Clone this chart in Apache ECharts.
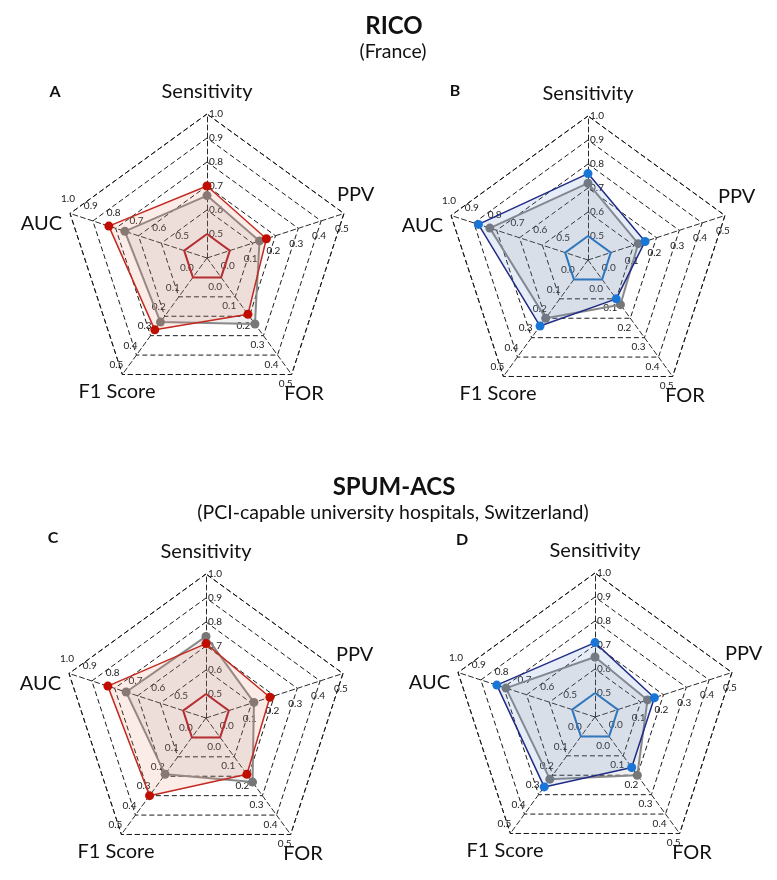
<!DOCTYPE html>
<html><head><meta charset="utf-8">
<script src="https://cdn.jsdelivr.net/npm/echarts@6/dist/echarts.min.js"></script>
<style>html,body{margin:0;padding:0;background:#fff}#c{width:777px;height:880px}</style>
</head><body><div id="c"></div>
<script>
// ---- data ----
const indicators = ['Sensitivity', 'AUC', 'F1 Score', 'FOR', 'PPV']; // counter-clockwise from top
const axisMin = [0.4, 0.4, -0.1, -0.1, -0.1];
const axisMax = [1.0, 1.0, 0.5, 0.5, 0.5];
const baseline = [0.5, 0.5, 0.0, 0.0, 0.0];
const panelLetters = ['A', 'B', 'C', 'D'];
const modelA = [0.70, 0.83, 0.27, 0.19, 0.16];
const compA  = [0.66, 0.76, 0.23, 0.24, 0.13];
const modelB = [0.76, 0.88, 0.24, 0.10, 0.15];
const compB  = [0.72, 0.83, 0.20, 0.13, 0.12];
const modelC = [0.71, 0.83, 0.30, 0.19, 0.18];
const compC  = [0.74, 0.75, 0.19, 0.23, 0.11];
const modelD = [0.71, 0.83, 0.26, 0.16, 0.16];
const compD  = [0.65, 0.79, 0.22, 0.20, 0.13];
const titles = ['RICO', 'SPUM-ACS'];
const subtitles = ['(France)', '(PCI-capable university hospitals, Switzerland)'];

// ---- layout / style ----
const centers = [[207, 258], [588, 260], [206, 718], [595, 717]];
const R = 144;
const FONT = 'Lato, "Open Sans", sans-serif';
const redTheme = {line: '#c0231b', dot: '#c00d00', fill: 'rgba(228,130,105,0.22)', inner: '#b5121b'};
const blueTheme = {line: '#1b2580', dot: '#1976d6', fill: 'rgba(95,140,195,0.22)', inner: '#1d73c6'};
const themes = [redTheme, blueTheme, redTheme, blueTheme];
const models = [modelA, modelB, modelC, modelD];
const comps = [compA, compB, compC, compD];

const radars = centers.map(c => ({
  center: c, radius: R, startAngle: 90, splitNumber: 6, shape: 'polygon',
  indicator: indicators.map((n, i) => ({name: n, min: axisMin[i], max: axisMax[i]})),
  axisName: {show: false},
  splitLine: {lineStyle: {color: '#1a1a1a', width: 1, type: [5, 3]}},
  splitArea: {show: false},
  axisLine: {lineStyle: {color: '#2a2a2a', width: 1, type: [5, 3]}},
  axisTick: {show: false},
  axisLabel: {show: true, fontSize: 10, color: '#222', fontFamily: FONT, margin: -16,
    formatter: (v, idx) => idx === 0 ? '' : (Math.round(v * 10) / 10).toFixed(1)}
}));

const series = [];
centers.forEach((c, p) => {
  const t = themes[p];
  series.push({type: 'radar', radarIndex: p, silent: true, z: 2, symbol: 'none',
    lineStyle: {color: t.inner, width: 2}, areaStyle: {opacity: 0},
    data: [{value: baseline}]});
  series.push({type: 'radar', radarIndex: p, silent: true, z: 3, symbol: 'circle', symbolSize: 9,
    lineStyle: {color: '#8a8a8a', width: 2}, itemStyle: {color: '#777'},
    areaStyle: {color: 'rgba(130,130,130,0.18)'},
    data: [{value: comps[p]}]});
  series.push({type: 'radar', radarIndex: p, silent: true, z: 4, symbol: 'circle', symbolSize: 9,
    lineStyle: {color: t.line, width: 1.5}, itemStyle: {color: t.dot},
    areaStyle: {color: t.fill},
    data: [{value: models[p]}]});
});

// axis names and headings
const nameOffsets = [
  {dx: 0, dy: -166, align: 'center'},
  {dx: -145, dy: -34, align: 'right'},
  {dx: -90, dy: 134, align: 'center'},
  {dx: 97, dy: 136, align: 'center'},
  {dx: 130, dy: -63, align: 'left'}
];
const letterPos = [[55, 92], [455, 91], [53, 538], [462, 540]];
const graphics = [];
centers.forEach((c, p) => {
  indicators.forEach((n, i) => {
    const o = nameOffsets[i];
    graphics.push({type: 'text', x: c[0] + o.dx, y: c[1] + o.dy, silent: true,
      style: {text: n, fontSize: 20, fontFamily: FONT, fill: '#111', align: o.align, verticalAlign: 'middle'}});
  });
  graphics.push({type: 'text', x: letterPos[p][0], y: letterPos[p][1], silent: true,
    style: {text: panelLetters[p], fontSize: 16, fontWeight: 'bold', fontFamily: FONT, fill: '#111', align: 'center', verticalAlign: 'middle'}});
});
const headY = [[26, 52], [487, 513]];
titles.forEach((t, k) => {
  graphics.push({type: 'text', x: 394, y: headY[k][0], silent: true,
    style: {text: t, fontSize: 24, fontWeight: 'bold', fontFamily: FONT, fill: '#111', align: 'center', verticalAlign: 'middle'}});
  graphics.push({type: 'text', x: 393, y: headY[k][1], silent: true,
    style: {text: subtitles[k], fontSize: 19.5, fontFamily: FONT, fill: '#111', align: 'center', verticalAlign: 'middle'}});
});

const chart = echarts.init(document.getElementById('c'), null, {renderer: 'canvas'});
chart.setOption({animation: false, radar: radars, series: series, graphic: graphics});
</script></body></html>
